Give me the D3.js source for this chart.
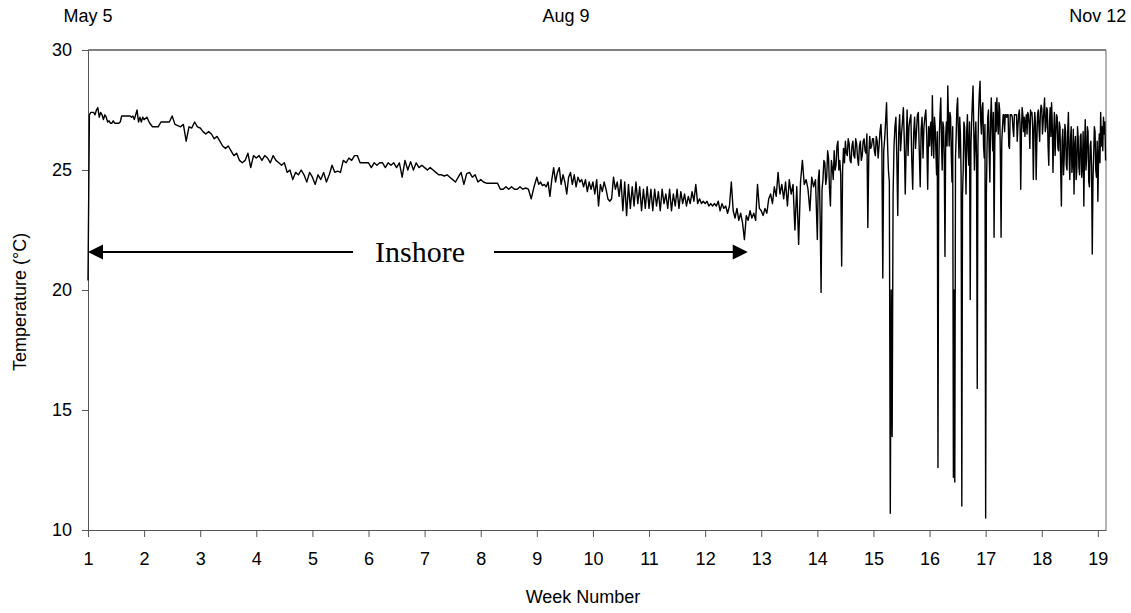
<!DOCTYPE html>
<html><head><meta charset="utf-8">
<script src="https://cdn.jsdelivr.net/npm/d3@7"></script>
<style>body{margin:0;background:#fff} svg{display:block}</style>
</head><body><svg id="chart" width="1131" height="613"></svg>
<script>
// ---- data ----
const weekTicks = [1,2,3,4,5,6,7,8,9,10,11,12,13,14,15,16,17,18,19];
const tempTicks = [10,15,20,25,30];
const dateLabels = ["May 5","Aug 9","Nov 12"];
const dateLabelWeeks = [1, 9.52, 19];
const samplesPerWeek = [40,20,20,20,20,20,20,20,30,30,30,30,30,60,60,80,80,80,80];

const week1 = [20.4,27.3,27.4,27.4,27.4,27.3,27.5,27.6,27.2,27.4,27.3,27.1,27.3,27.2,27.0,27.05,26.95,26.95,27.05,26.95,26.95,26.95,26.95,27.0,27.25,27.25,27.25,27.25,27.25,27.25,27.25,27.2,27.25,27.1,27.3,27.5,27.0,27.2,27.0,27.2];
const week2 = [27.1,27.2,26.95,26.8,26.8,26.8,27.0,27.0,27.0,27.0,27.25,26.9,26.85,26.8,26.9,26.2,26.8,26.75,27.0,26.8];
const week3 = [26.75,26.6,26.5,26.6,26.5,26.3,26.4,26.2,26.0,25.9,26.0,25.8,25.6,25.7,25.4,25.3,25.4,25.7,25.1,25.6];
const week4 = [25.5,25.6,25.4,25.6,25.5,25.3,25.6,25.4,25.3,25.2,25.3,24.9,25.0,24.6,24.9,24.8,25.0,24.8,24.5,24.9];
const week5 = [24.7,24.4,24.8,24.6,24.9,24.5,24.8,25.2,24.9,24.95,24.9,25.4,25.3,25.5,25.4,25.6,25.6,25.3,25.3,25.3];
const week6 = [25.3,25.1,25.3,25.2,25.3,25.3,25.1,25.3,25.2,25.3,25.1,25.3,24.7,25.4,25.0,25.35,25.0,25.3,25.1,25.2];
const week7 = [25.1,25.0,25.1,25.0,24.9,24.8,24.8,24.75,24.8,24.7,24.6,24.5,24.7,24.9,24.4,24.85,24.9,24.7,24.8,24.5];
const week8 = [24.6,24.5,24.45,24.45,24.45,24.45,24.45,24.2,24.2,24.3,24.2,24.3,24.2,24.2,24.3,24.2,24.25,24.2,23.8,24.3];
const week9 = [24.7,24.4,24.5,24.35,24.4,24.3,24.5,23.9,24.6,25.1,24.5,24.9,25.1,24.4,24.8,24.5,24.0,24.7,24.9,24.4,24.8,24.3,24.7,24.5,24.6,24.3,24.6,24.1,24.5,24.2];
const week10 = [24.5,24.0,24.6,23.5,24.4,24.1,24.5,24.2,23.8,23.7,23.8,24.7,24.2,24.5,23.9,24.6,23.3,24.5,23.1,24.4,23.4,24.3,23.5,24.5,23.6,24.3,23.3,24.2,23.4,24.3];
const week11 = [23.4,24.2,23.3,24.2,23.5,24.1,23.3,24.2,23.6,24.0,23.4,24.2,23.3,24.0,23.5,24.2,23.4,24.1,23.6,24.0,23.5,23.9,23.6,24.1,23.7,24.4,23.6,23.8,23.6,23.7];
const week12 = [23.6,23.7,23.5,23.6,23.5,23.6,23.5,23.7,23.3,23.6,23.4,23.5,23.2,23.5,24.5,23.3,23.0,23.4,22.9,23.2,22.8,22.1,23.1,22.9,23.3,23.0,23.2,22.9,24.4,23.4];
const week13 = [23.3,23.1,23.4,23.2,23.8,24.0,23.6,24.3,23.9,24.9,24.0,24.4,23.8,24.5,23.5,24.6,24.0,24.4,22.5,24.3,21.9,24.5,25.4,24.4,24.6,24.2,23.3,24.7,24.3,24.6];
const week14 = [22.1,24.6,25.0,23.0,19.9,24.2,24.6,25.4,25.3,24.4,24.7,25.8,25.5,24.2,23.5,25.4,25.1,24.6,25.8,25.0,25.2,26.0,26.2,25.0,25.4,24.8,21.0,25.0,25.9,25.3,26.2,25.7,25.6,26.3,26.1,25.4,25.3,26.0,26.2,25.6,25.5,26.3,26.1,25.5,25.2,26.0,26.2,25.4,25.6,26.2,26.3,25.8,25.7,26.5,22.6,25.6,26.4,25.9,26.0,26.3];
const week15 = [26.3,25.8,25.6,26.4,26.2,25.5,26.0,26.6,26.9,26.0,20.5,25.8,26.3,27.0,27.8,26.2,25.0,24.5,10.7,20.0,13.9,24.0,26.0,26.8,27.2,25.5,23.1,26.5,27.3,25.8,26.5,27.0,27.6,26.2,24.0,26.0,27.5,25.6,26.8,27.1,27.3,25.4,24.2,26.5,27.2,25.9,26.6,27.3,27.4,25.8,24.3,26.7,27.2,25.5,26.8,27.2,27.5,26.4,24.2,26.8];
const week16 = [26.0,26.8,27.0,25.6,28.1,26.5,25.5,27.2,26.8,25.8,24.8,26.6,12.6,25.0,26.5,27.4,28.0,26.2,25.0,27.0,26.8,25.4,21.4,26.4,27.0,26.0,28.5,27.0,26.0,27.4,27.2,25.6,24.5,26.8,12.2,20.0,12.0,25.5,26.5,27.6,28.0,26.6,25.5,27.2,26.5,24.8,11.0,24.0,25.0,27.0,26.8,25.6,24.0,26.6,27.3,25.8,25.2,27.0,19.6,26.0,27.0,27.8,28.5,26.8,25.0,26.2,27.0,25.5,15.9,26.0,27.5,28.2,28.7,27.0,26.5,27.6,27.8,26.0,25.5,26.9];
const week17 = [10.5,24.0,26.0,27.2,27.5,25.8,24.5,27.0,28.0,26.8,25.8,27.4,22.2,26.0,27.8,26.6,28.0,27.0,26.5,27.8,27.5,25.5,22.2,26.2,26.8,27.3,27.3,26.6,27.3,27.3,27.2,27.3,27.3,26.0,25.9,27.3,27.3,27.3,27.2,26.7,26.4,27.3,27.3,27.3,27.3,26.2,26.8,27.3,27.5,26.9,24.2,26.5,27.6,27.3,26.6,27.2,26.4,27.0,27.3,26.5,27.4,27.3,26.9,25.9,27.5,27.3,27.4,26.8,24.6,26.6,27.4,27.0,24.6,26.2,27.3,27.5,26.8,26.2,27.4,27.7];
const week18 = [27.6,26.5,27.0,27.5,28.0,26.6,26.8,27.6,27.5,26.0,25.2,27.0,27.6,26.4,27.8,26.9,24.9,26.5,27.4,25.6,26.5,27.3,27.2,25.9,25.8,27.0,26.8,25.0,23.5,26.2,26.7,24.8,25.5,26.9,26.6,25.2,25.0,26.6,27.4,25.6,24.6,26.3,26.8,24.9,25.3,26.7,24.0,26.0,26.4,24.6,25.0,26.8,26.3,25.1,24.8,26.4,26.5,24.7,25.2,26.6,23.5,25.8,27.1,25.0,25.5,26.8,26.6,24.5,24.3,26.0,26.2,25.2,21.5,24.5,25.6,26.8,26.6,25.0,24.7,26.2];
const week19 = [23.7,25.5,26.5,25.3,27.4,26.0,26.8,25.8,27.2,26.5,27.0,25.4];

const weeks = [week1,week2,week3,week4,week5,week6,week7,week8,week9,week10,week11,week12,week13,week14,week15,week16,week17,week18,week19];
const series = [];
weeks.forEach((vals, k) => vals.forEach((t, i) => series.push({week: k + 1 + i / samplesPerWeek[k], temp: t})));

const annotation = {text: "Inshore", fromWeek: 1, toWeek: 12.76, temp: 21.58};

// ---- chart ----
const svg = d3.select("#chart");
const L = 88, R = 1106, T = 50, B = 530;
const x = d3.scaleLinear().domain([1, 19.145]).range([L, R]);
const y = d3.scaleLinear().domain([10, 30]).range([B, T]);
const font = "Arial, 'Liberation Sans', sans-serif";

// box
svg.append("line").attr("x1", L).attr("x2", R).attr("y1", T).attr("y2", T).attr("stroke", "#000");
svg.append("line").attr("x1", R).attr("x2", R).attr("y1", T).attr("y2", B).attr("stroke", "#666");

const yAxis = svg.append("g").attr("transform", `translate(${L},0)`)
  .call(d3.axisLeft(y).tickValues(tempTicks).tickSize(6).tickSizeOuter(0).tickPadding(10).tickFormat(d3.format("d")));
const xAxis = svg.append("g").attr("transform", `translate(0,${B})`)
  .call(d3.axisBottom(x).tickValues(weekTicks).tickSize(7).tickSizeOuter(0).tickPadding(15).tickFormat(d3.format("d")));
[yAxis, xAxis].forEach(g => {
  g.select(".domain").attr("stroke", "#555");
  g.selectAll(".tick line").attr("stroke", "#555");
  g.selectAll("text").attr("font-family", font).attr("font-size", 18).attr("fill", "#000");
});

// data line
svg.append("path").datum(series)
  .attr("fill", "none").attr("stroke", "#000").attr("stroke-width", 1.4).attr("stroke-linejoin", "round")
  .attr("d", d3.line().x(d => x(d.week)).y(d => y(d.temp)));

// date labels
svg.selectAll(".date").data(dateLabels).join("text")
  .attr("x", (d, i) => x(dateLabelWeeks[i])).attr("y", 22)
  .attr("text-anchor", "middle").attr("font-family", font).attr("font-size", 18).text(d => d);

// axis titles
svg.append("text").attr("x", 583).attr("y", 603).attr("text-anchor", "middle")
  .attr("font-family", font).attr("font-size", 18).text("Week Number");
svg.append("text").attr("transform", "translate(26,302) rotate(-90)").attr("text-anchor", "middle")
  .attr("font-family", font).attr("font-size", 18).text("Temperature (°C)");

// annotation arrow
const ay = y(annotation.temp), ax1 = x(annotation.fromWeek), ax2 = x(annotation.toWeek);
const tx = 420;
svg.append("text").attr("x", tx).attr("y", ay + 10).attr("text-anchor", "middle")
  .attr("font-family", "'Times New Roman', 'Liberation Serif', serif").attr("font-size", 30).text(annotation.text);
svg.append("line").attr("x1", ax1 + 12).attr("x2", 353).attr("y1", ay).attr("y2", ay).attr("stroke", "#000").attr("stroke-width", 2);
svg.append("line").attr("x1", 494).attr("x2", ax2 - 12).attr("y1", ay).attr("y2", ay).attr("stroke", "#000").attr("stroke-width", 2);
svg.append("path").attr("d", `M${ax1},${ay}L${ax1+15},${ay-7.5}L${ax1+15},${ay+7.5}Z`).attr("fill", "#000");
svg.append("path").attr("d", `M${ax2},${ay}L${ax2-15},${ay-7.5}L${ax2-15},${ay+7.5}Z`).attr("fill", "#000");
</script></body></html>
